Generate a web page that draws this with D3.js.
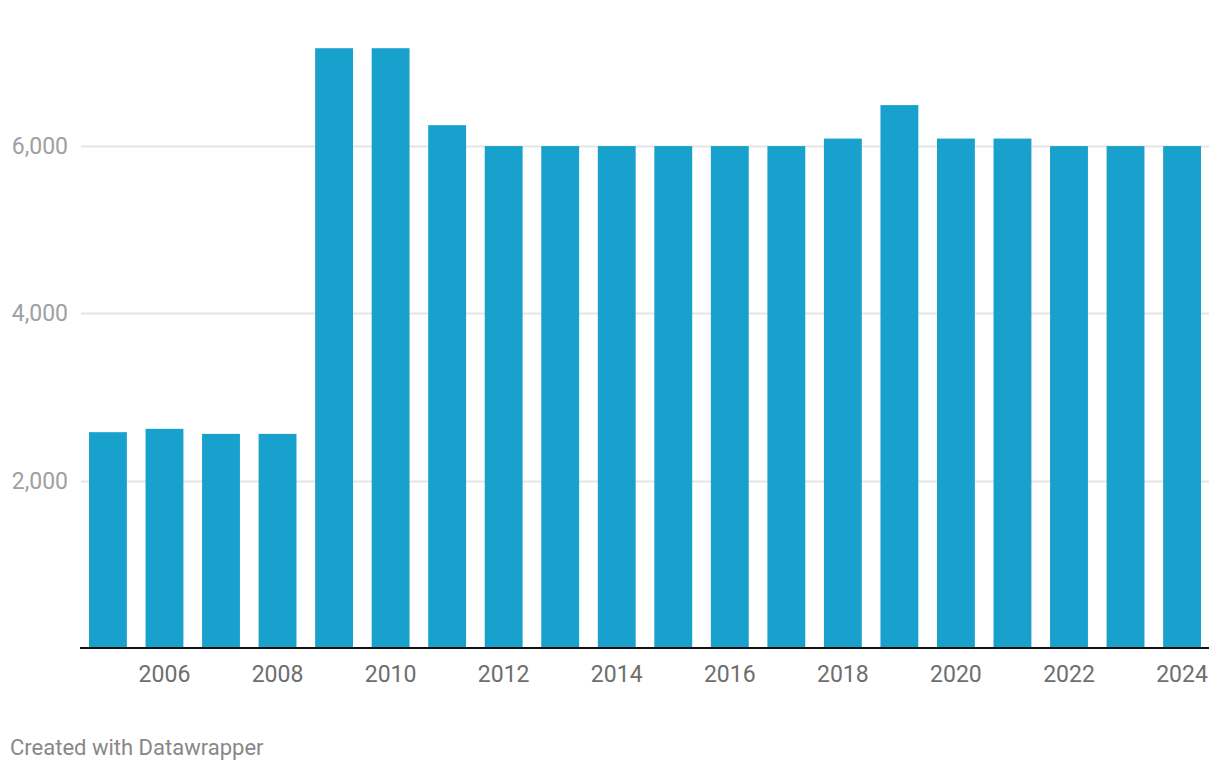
<!DOCTYPE html>
<html>
<head>
<meta charset="utf-8">
<script src="https://cdn.jsdelivr.net/npm/d3@7"></script>
<style>
  html, body { margin: 0; padding: 0; background: #fff; }
  svg { display: block; font-family: Roboto, "Noto Sans", sans-serif; }
</style>
</head>
<body>
<svg id="chart" width="1220" height="770"></svg>
<script>
const years = [2005, 2006, 2007, 2008, 2009, 2010, 2011, 2012, 2013, 2014,
               2015, 2016, 2017, 2018, 2019, 2020, 2021, 2022, 2023, 2024];
const values = [2580, 2620, 2560, 2560, 7170, 7170, 6250, 6000, 6000, 6000,
                6000, 6000, 6000, 6090, 6490, 6090, 6090, 6000, 6000, 6000];
const yTicks = [2000, 4000, 6000];
const xTickYears = [2006, 2008, 2010, 2012, 2014, 2016, 2018, 2020, 2022, 2024];

const svg = d3.select("#chart");

const plotLeft = 81, plotRight = 1209;
const barLeft = 89, barRight = 1201;
const y0 = 648;
const pxPer2000 = 167.3;

const x = d3.scaleBand()
  .domain(years)
  .range([barLeft, barRight])
  .paddingInner(0.33)
  .paddingOuter(0);

const y = d3.scaleLinear()
  .domain([0, 2000])
  .range([y0, y0 - pxPer2000]);

// gridlines
svg.append("g")
  .selectAll("line")
  .data(yTicks)
  .join("line")
  .attr("x1", plotLeft)
  .attr("x2", plotRight)
  .attr("y1", d => Math.round(y(d)) + 0.5)
  .attr("y2", d => Math.round(y(d)) + 0.5)
  .attr("stroke", "#e5e5e5")
  .attr("stroke-width", 2);

// y labels
svg.append("g")
  .selectAll("text")
  .data(yTicks)
  .join("text")
  .attr("x", 68)
  .attr("y", d => y(d) + 8)
  .attr("text-anchor", "end")
  .attr("font-size", 23)
  .attr("fill", "#a0a0a0")
  .text(d => d3.format(",")(d));

// bars
svg.append("g")
  .selectAll("rect")
  .data(years.map((yr, i) => ({ yr, v: values[i] })))
  .join("rect")
  .attr("x", d => x(d.yr))
  .attr("width", x.bandwidth())
  .attr("y", d => y(d.v))
  .attr("height", d => y0 - y(d.v))
  .attr("fill", "#18a1cd");

// baseline
svg.append("line")
  .attr("x1", plotLeft - 1)
  .attr("x2", plotRight)
  .attr("y1", y0)
  .attr("y2", y0)
  .attr("stroke", "#111")
  .attr("stroke-width", 2);

// x labels
svg.append("g")
  .selectAll("text")
  .data(xTickYears)
  .join("text")
  .attr("x", d => x(d) + x.bandwidth() / 2)
  .attr("y", 682)
  .attr("text-anchor", "middle")
  .attr("font-size", 23)
  .attr("fill", "#6e6e6e")
  .text(d => d);

// footer
svg.append("text")
  .attr("x", 10)
  .attr("y", 755)
  .attr("font-size", 22)
  .attr("fill", "#888888")
  .text("Created with Datawrapper");
</script>
</body>
</html>
